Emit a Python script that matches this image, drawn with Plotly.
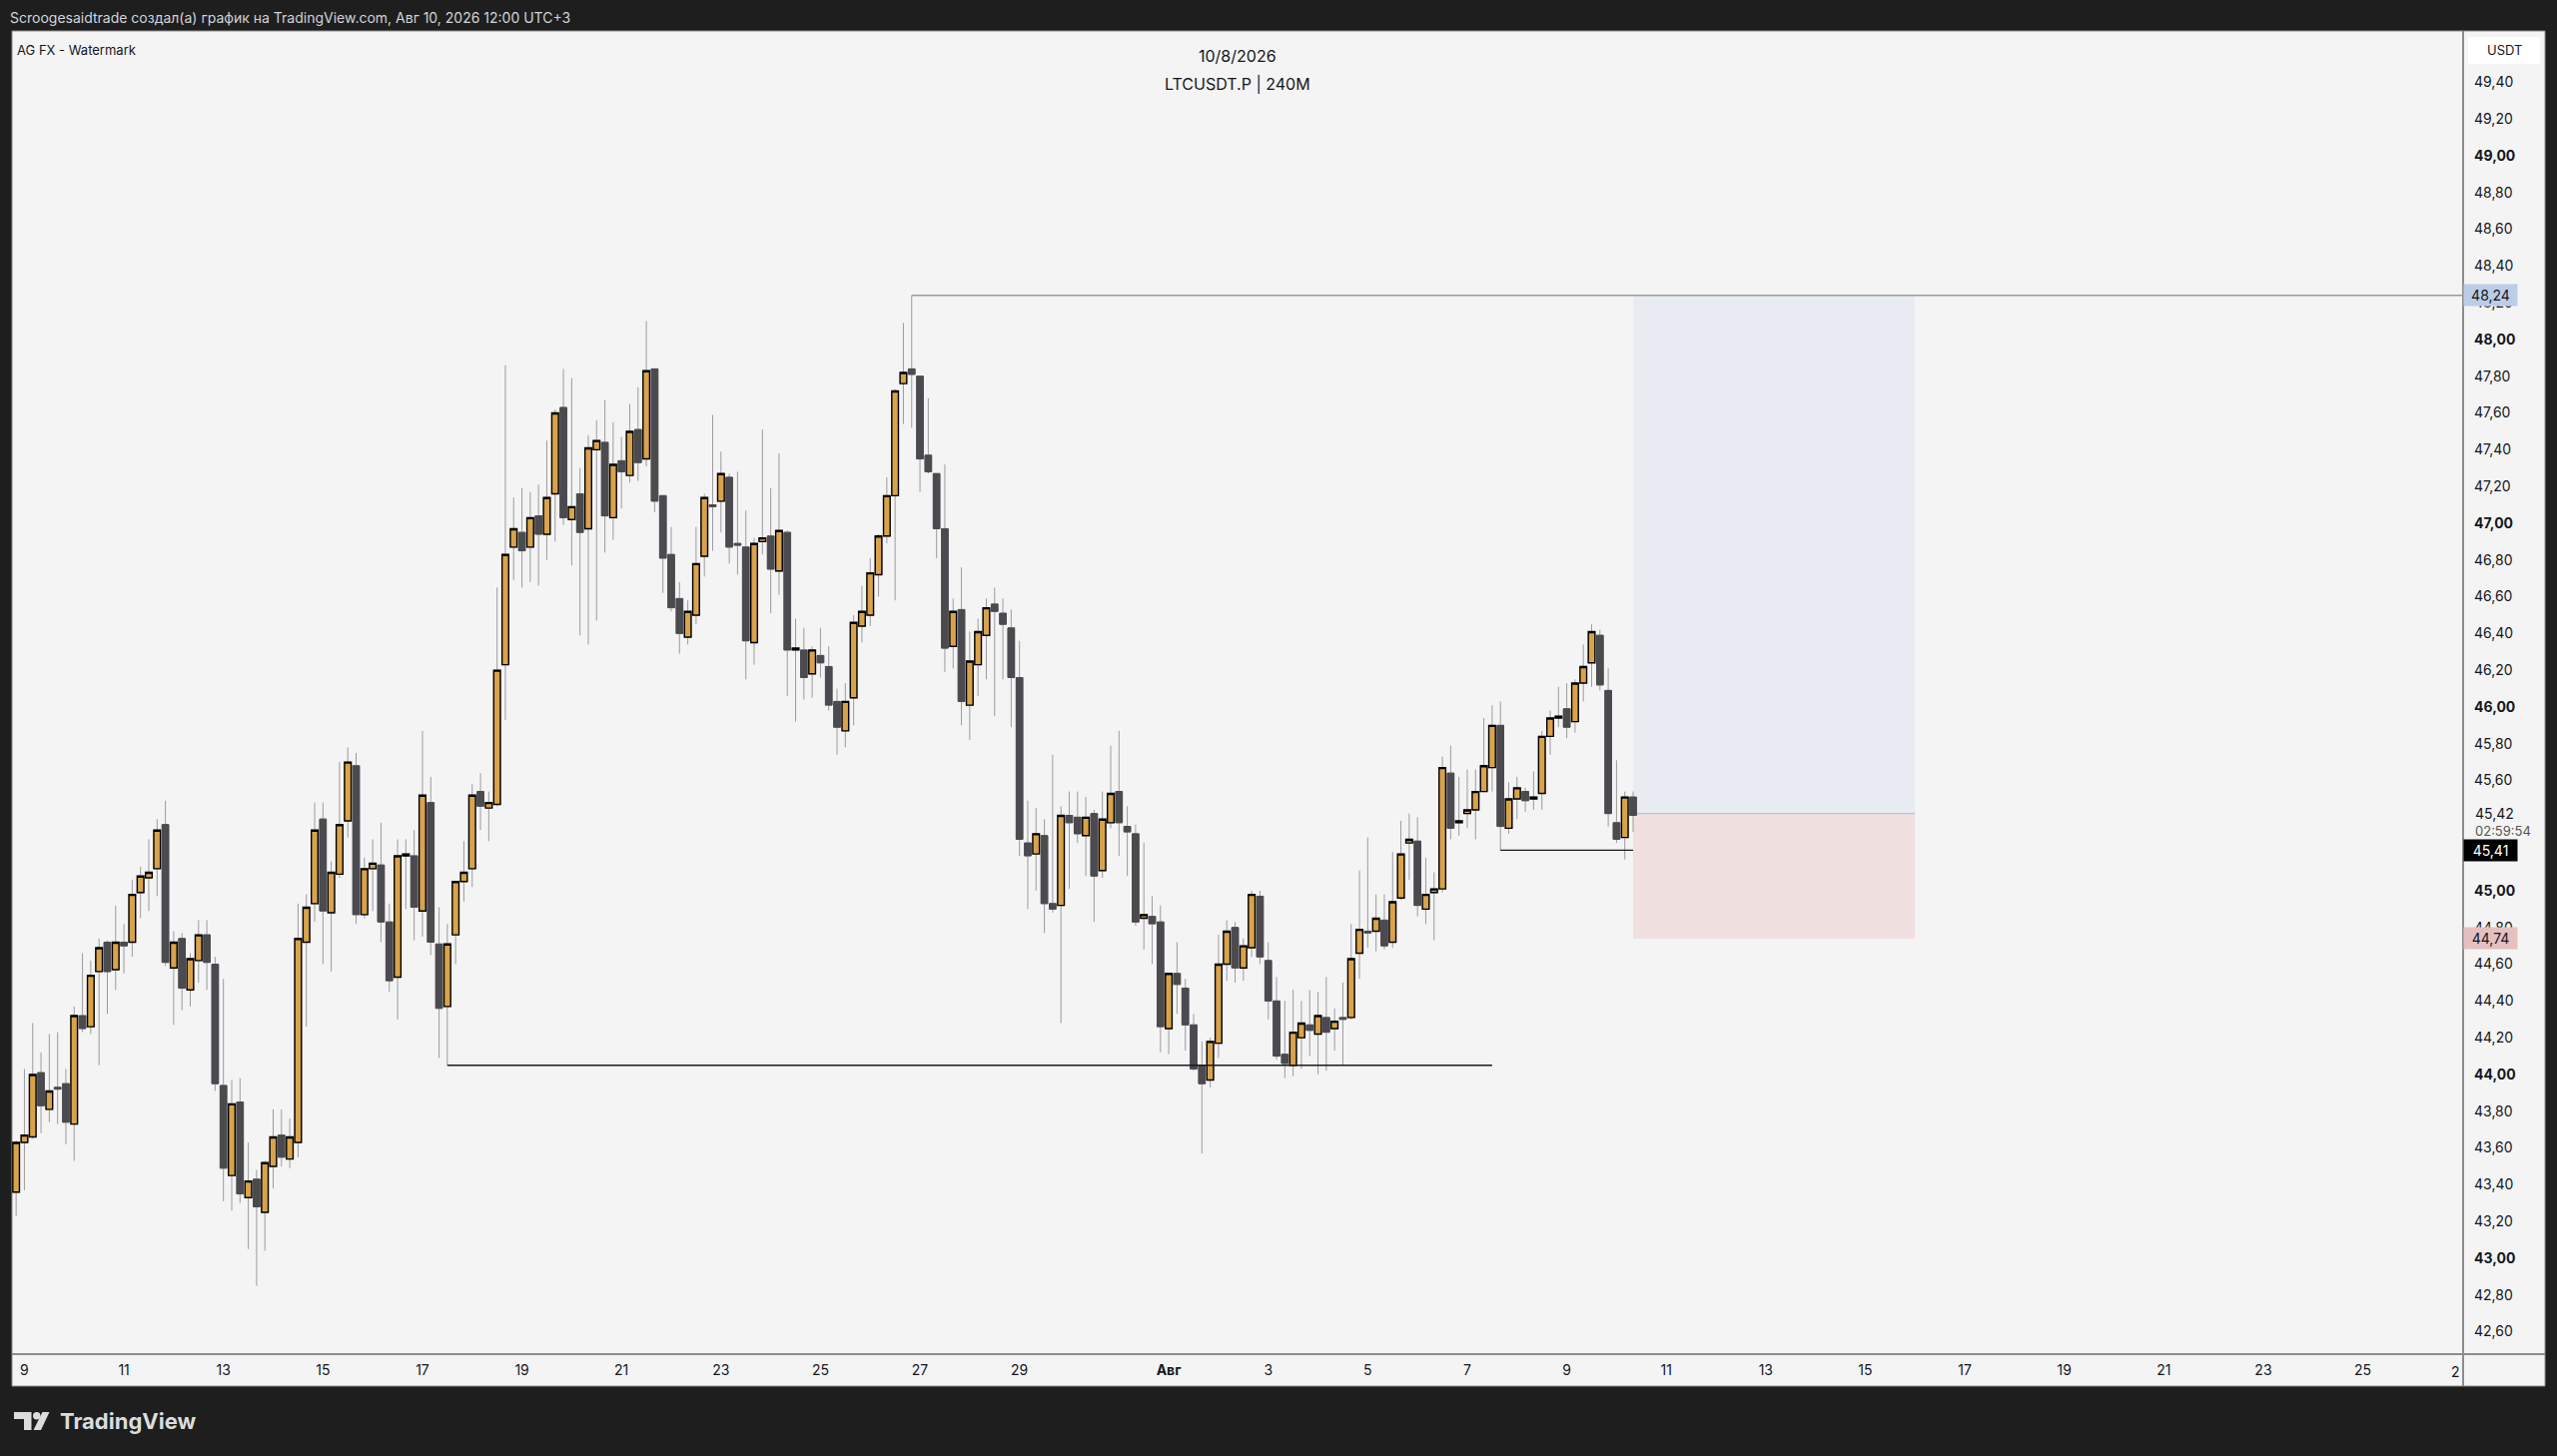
import pandas as pd
import plotly.graph_objects as go

# LTCUSDT.P, 4h-Kerzen, erste Kerze 08.07.2026 20:00
first_bar = "2026-07-08 20:00"

open_ = [
    43.36, 43.63, 43.66, 44.01, 43.81, 43.93,
    43.95, 43.73, 44.32, 44.26, 44.56, 44.72,
    44.57, 44.72, 44.72, 44.99, 45.07, 45.12,
    45.36, 44.58, 44.74, 44.46, 44.62, 44.76,
    44.60, 43.94, 43.45, 43.85, 43.33, 43.43,
    43.25, 43.50, 43.67, 43.54, 43.63, 44.72,
    44.93, 45.39, 44.88, 45.09, 45.38, 45.68,
    44.87, 45.12, 45.14, 44.83, 44.53, 45.19,
    45.19, 44.89, 45.48, 44.71, 44.37, 44.76,
    45.05, 45.12, 45.54, 45.45, 45.47, 46.23,
    46.87, 46.95, 46.87, 47.04, 46.94, 47.16,
    47.63, 47.02, 47.16, 46.97, 47.40, 47.44,
    47.03, 47.34, 47.26, 47.51, 47.35, 47.84,
    47.15, 46.83, 46.59, 46.38, 46.50, 46.82,
    47.10, 47.12, 47.25, 46.89, 46.87, 46.35,
    46.90, 46.93, 46.74, 46.95, 46.31, 46.31,
    46.18, 46.28, 46.22, 46.03, 45.87, 46.05,
    46.44, 46.50, 46.72, 46.93, 47.15, 47.76,
    47.84, 47.80, 47.37, 47.27, 46.97, 46.33,
    46.53, 46.01, 46.23, 46.39, 46.56, 46.51,
    46.43, 46.16, 45.26, 45.20, 45.30, 44.93,
    44.92, 45.41, 45.40, 45.30, 45.42, 45.11,
    45.37, 45.54, 45.35, 45.31, 44.85, 44.86,
    44.83, 44.25, 44.55, 44.47, 44.27, 44.05,
    43.97, 44.17, 44.60, 44.80, 44.58, 44.69,
    44.97, 44.62, 44.40, 44.11, 44.05, 44.20,
    44.27, 44.22, 44.31, 44.25, 44.31, 44.31,
    44.66, 44.78, 44.78, 44.84, 44.72, 44.96,
    45.26, 45.27, 44.90, 44.99, 45.01, 45.64,
    45.37, 45.42, 45.44, 45.54, 45.67, 45.90,
    45.34, 45.50, 45.54, 45.50, 45.53, 45.84,
    45.94, 45.99, 45.92, 46.13, 46.24, 46.39,
    46.09, 45.37, 45.29, 45.51,
]
high = [
    43.64, 44.03, 44.28, 44.12, 44.22, 44.23,
    44.03, 44.37, 44.66, 44.62, 44.74, 44.73,
    44.92, 44.82, 45.06, 45.13, 45.28, 45.39,
    45.49, 44.78, 44.77, 44.66, 44.84, 44.84,
    44.64, 44.52, 43.97, 43.98, 43.63, 43.48,
    43.53, 43.81, 43.81, 43.76, 44.93, 44.98,
    45.48, 45.48, 45.16, 45.70, 45.78, 45.75,
    45.18, 45.28, 45.37, 44.93, 45.28, 45.28,
    45.33, 45.87, 45.62, 44.91, 44.82, 45.05,
    45.27, 45.58, 45.64, 45.54, 46.65, 47.86,
    47.14, 47.19, 47.17, 47.21, 47.45, 47.62,
    47.84, 47.79, 47.30, 47.48, 47.56, 47.67,
    47.55, 47.47, 47.65, 47.74, 48.10, 47.84,
    47.15, 46.98, 46.68, 46.58, 46.98, 47.16,
    47.59, 47.39, 47.27, 47.28, 47.07, 46.92,
    47.51, 47.19, 47.38, 46.96, 46.48, 46.43,
    46.33, 46.43, 46.33, 46.10, 46.13, 46.50,
    46.66, 46.81, 46.94, 47.25, 47.73, 48.09,
    48.24, 47.80, 47.68, 47.27, 47.32, 46.59,
    46.76, 46.41, 46.48, 46.59, 46.65, 46.59,
    46.53, 46.36, 45.49, 45.45, 45.39, 45.74,
    45.46, 45.54, 45.54, 45.51, 45.44, 45.54,
    45.79, 45.87, 45.46, 45.36, 45.26, 44.97,
    44.92, 44.55, 44.72, 44.52, 44.33, 44.18,
    44.20, 44.76, 44.84, 44.83, 44.74, 45.00,
    45.00, 44.72, 44.53, 44.40, 44.46, 44.40,
    44.46, 44.45, 44.53, 44.36, 44.50, 44.82,
    45.11, 45.29, 44.98, 44.98, 45.21, 45.38,
    45.42, 45.40, 45.18, 45.10, 45.73, 45.79,
    45.62, 45.66, 45.66, 45.94, 46.01, 46.03,
    45.59, 45.62, 45.56, 45.65, 45.87, 45.98,
    46.11, 46.13, 46.15, 46.34, 46.45, 46.42,
    46.21, 45.71, 45.54, 45.54,
]
low = [
    43.23, 43.37, 43.65, 43.68, 43.74, 43.73,
    43.62, 43.53, 44.23, 44.22, 44.05, 44.33,
    44.46, 44.55, 44.64, 44.85, 44.89, 44.97,
    44.59, 44.27, 44.35, 44.37, 44.50, 44.46,
    43.91, 43.31, 43.26, 43.30, 43.05, 42.85,
    43.04, 43.38, 43.50, 43.49, 43.55, 44.26,
    44.83, 44.60, 44.56, 45.07, 45.29, 44.82,
    44.85, 44.89, 44.72, 44.45, 44.30, 44.90,
    44.73, 44.75, 44.65, 44.09, 44.05, 44.60,
    44.94, 45.02, 45.33, 45.27, 45.46, 45.93,
    46.69, 46.65, 46.68, 46.66, 46.80, 46.90,
    46.99, 46.77, 46.39, 46.34, 46.47, 46.84,
    46.91, 47.08, 47.22, 47.23, 47.31, 47.06,
    46.62, 46.52, 46.29, 46.34, 46.45, 46.71,
    46.85, 46.95, 46.78, 46.72, 46.15, 46.23,
    46.83, 46.51, 46.61, 46.06, 45.92, 46.04,
    46.05, 46.16, 45.98, 45.74, 45.78, 45.90,
    46.35, 46.44, 46.60, 46.89, 46.58, 47.54,
    47.52, 47.17, 47.27, 46.81, 46.19, 46.21,
    45.90, 45.82, 46.06, 46.15, 45.95, 46.15,
    45.89, 45.19, 44.90, 45.00, 44.77, 44.88,
    44.28, 45.01, 45.26, 45.08, 44.83, 45.07,
    45.34, 45.19, 45.08, 44.81, 44.68, 44.60,
    44.12, 44.11, 44.33, 44.13, 44.02, 43.57,
    43.93, 44.09, 44.51, 44.50, 44.51, 44.64,
    44.60, 44.30, 44.08, 43.98, 43.99, 44.03,
    44.10, 44.00, 44.02, 44.13, 44.05, 44.30,
    44.52, 44.69, 44.67, 44.68, 44.69, 44.95,
    45.06, 44.86, 44.82, 44.73, 44.99, 45.28,
    45.30, 45.34, 45.28, 45.54, 45.54, 45.22,
    45.31, 45.39, 45.43, 45.44, 45.44, 45.74,
    45.89, 45.83, 45.86, 46.03, 46.11, 46.09,
    45.35, 45.26, 45.17, 45.32,
]
close = [
    43.63, 43.67, 44.00, 43.83, 43.91, 43.92,
    43.74, 44.32, 44.25, 44.54, 44.69, 44.56,
    44.72, 44.70, 44.98, 45.08, 45.10, 45.33,
    44.61, 44.72, 44.47, 44.63, 44.76, 44.61,
    43.95, 43.49, 43.84, 43.35, 43.42, 43.28,
    43.52, 43.66, 43.55, 43.66, 44.74, 44.91,
    45.33, 44.89, 45.10, 45.36, 45.70, 44.87,
    45.12, 45.15, 44.83, 44.51, 45.19, 45.20,
    44.91, 45.52, 44.72, 44.36, 44.71, 45.05,
    45.10, 45.52, 45.46, 45.48, 46.20, 46.83,
    46.97, 46.85, 47.03, 46.94, 47.14, 47.60,
    47.03, 47.09, 46.95, 47.41, 47.45, 47.04,
    47.32, 47.28, 47.50, 47.33, 47.83, 47.12,
    46.81, 46.54, 46.40, 46.52, 46.78, 47.14,
    47.09, 47.27, 46.87, 46.88, 46.36, 46.89,
    46.92, 46.75, 46.96, 46.31, 46.32, 46.16,
    46.31, 46.24, 46.01, 45.89, 46.03, 46.46,
    46.52, 46.73, 46.93, 47.15, 47.72, 47.82,
    47.81, 47.35, 47.28, 46.97, 46.32, 46.52,
    46.03, 46.25, 46.41, 46.54, 46.52, 46.45,
    46.16, 45.28, 45.19, 45.31, 44.93, 44.90,
    45.41, 45.37, 45.31, 45.40, 45.08, 45.39,
    45.53, 45.37, 45.32, 44.83, 44.87, 44.82,
    44.26, 44.55, 44.49, 44.27, 44.03, 43.95,
    44.18, 44.60, 44.78, 44.58, 44.70, 44.98,
    44.64, 44.40, 44.10, 44.06, 44.23, 44.28,
    44.24, 44.32, 44.23, 44.29, 44.30, 44.63,
    44.79, 44.77, 44.85, 44.70, 44.94, 45.20,
    45.28, 44.92, 44.98, 45.01, 45.67, 45.34,
    45.38, 45.44, 45.54, 45.68, 45.90, 45.35,
    45.50, 45.56, 45.49, 45.51, 45.84, 45.94,
    45.95, 45.89, 46.13, 46.22, 46.41, 46.12,
    45.42, 45.28, 45.51, 45.41,
]

# Preisskala rechts
price_ticks = [42.6, 42.8, 43.0, 43.2, 43.4, 43.6, 43.8, 44.0, 44.2, 44.4, 44.6,
               44.8, 45.0, 45.6, 45.8, 46.0, 46.2, 46.4, 46.6, 46.8, 47.0,
               47.2, 47.4, 47.6, 47.8, 48.0, 48.2, 48.4, 48.6, 48.8, 49.0, 49.2, 49.4]

# Zeitachse
day_ticks = ["2026-07-09", "2026-07-11", "2026-07-13", "2026-07-15", "2026-07-17",
             "2026-07-19", "2026-07-21", "2026-07-23", "2026-07-25", "2026-07-27",
             "2026-07-29", "2026-08-01", "2026-08-03", "2026-08-05", "2026-08-07",
             "2026-08-09", "2026-08-11", "2026-08-13", "2026-08-15", "2026-08-17",
             "2026-08-19", "2026-08-21", "2026-08-23", "2026-08-25"]
day_labels = ["9", "11", "13", "15", "17", "19", "21", "23", "25", "27", "29",
              "<b>Авг</b>", "3", "5", "7", "9", "11", "13", "15", "17", "19", "21", "23", "25"]

# Zeichnungen
take_profit = 48.24
entry = 45.42
stop_loss = 44.74
low_level = 44.05
swing_level = 45.22
last_price = 45.41
low_line_end = "2026-08-07 12:00"
box_end = "2026-08-16 00:00"
x_range = ["2026-07-08 18:00", "2026-08-27 00:23"]
y_range = [42.478, 49.679]

times = pd.date_range(first_bar, periods=len(close), freq="4h")
body_top = [max(o, c) for o, c in zip(open_, close)]
body_bot = [min(o, c) for o, c in zip(open_, close)]

UP = "#d9a34c"
DOWN = "#4a4a4f"
WICK = "#9c9c9c"
BG = "#f4f4f4"
DARK = "#1e1e1e"
TXT = "#131722"
SEP = "#8c8c8c"
FONT = "Inter"

W, H = 2560, 1458
L, R, T, B = 12, 2466, 31, 1356  # Plotflaeche in Pixel


def px(x):
    return (x - L) / (R - L)


def py(y):
    return (B - y) / (B - T)


def path(points):
    s = "M " + " L ".join(f"{px(a):.5f},{py(b):.5f}" for a, b in points)
    return s + " Z"


fig = go.Figure()

# Dochte
fig.add_trace(go.Candlestick(
    x=times, open=open_, high=high, low=low, close=close,
    increasing=dict(line=dict(color=WICK, width=1), fillcolor=WICK),
    decreasing=dict(line=dict(color=WICK, width=1), fillcolor=WICK),
    hoverinfo="skip", showlegend=False,
))
# Koerper
fig.add_trace(go.Candlestick(
    x=times, open=open_, high=body_top, low=body_bot, close=close,
    increasing=dict(line=dict(color="#000000", width=1.4), fillcolor=UP),
    decreasing=dict(line=dict(color=DOWN, width=1), fillcolor=DOWN),
    hoverinfo="skip", showlegend=False,
))

shapes = []
# Rahmen / Hintergrund
shapes.append(dict(type="rect", xref="paper", yref="paper", layer="below",
                   x0=px(12), x1=px(2548), y0=py(31), y1=py(1388),
                   fillcolor=BG, line=dict(color=SEP, width=1)))
shapes.append(dict(type="line", xref="paper", yref="paper",
                   x0=px(2466), x1=px(2466), y0=py(31), y1=py(1388),
                   line=dict(color=SEP, width=2)))
shapes.append(dict(type="line", xref="paper", yref="paper",
                   x0=px(12), x1=px(2548), y0=py(1356), y1=py(1356),
                   line=dict(color=SEP, width=2)))
shapes.append(dict(type="rect", xref="paper", yref="paper",
                   x0=px(2471), x1=px(2543), y0=py(37), y1=py(64),
                   fillcolor="#ffffff", line=dict(width=0)))

# Long-Position Box
shapes.append(dict(type="rect", xref="x", yref="y", layer="below",
                   x0=times[-1], x1=box_end, y0=entry, y1=take_profit,
                   fillcolor="#e8ecf2", line=dict(width=0)))
shapes.append(dict(type="rect", xref="x", yref="y", layer="below",
                   x0=times[-1], x1=box_end, y0=stop_loss, y1=entry,
                   fillcolor="#f0e0e0", line=dict(width=0)))
shapes.append(dict(type="line", xref="x", yref="y", layer="below",
                   x0=times[-1], x1=box_end, y0=entry, y1=entry,
                   line=dict(color="#b4b8c4", width=1)))

# Linien
shapes.append(dict(type="line", xref="x", yref="y",
                   x0=times[108], x1=x_range[1], y0=take_profit, y1=take_profit,
                   line=dict(color="#999999", width=1.5)))
shapes.append(dict(type="line", xref="x", yref="y",
                   x0=times[52], x1=low_line_end, y0=low_level, y1=low_level,
                   line=dict(color="#1a1a1a", width=1.3)))
shapes.append(dict(type="line", xref="x", yref="y",
                   x0=times[179], x1=times[-1], y0=swing_level, y1=swing_level,
                   line=dict(color="#1a1a1a", width=1.3)))

# TradingView Logo
LOGO = "#dcdcdc"
shapes.append(dict(type="path", xref="paper", yref="paper", fillcolor=LOGO, line=dict(width=0),
                   path=path([(14, 1414), (31.5, 1414), (31.5, 1432), (24, 1432), (24, 1421), (14, 1421)])))
shapes.append(dict(type="circle", xref="paper", yref="paper", fillcolor=LOGO, line=dict(width=0),
                   x0=px(33), x1=px(40.5), y0=py(1414), y1=py(1421.5)))
shapes.append(dict(type="path", xref="paper", yref="paper", fillcolor=LOGO, line=dict(width=0),
                   path=path([(42.5, 1414), (49.5, 1414), (41, 1432), (33.5, 1432)])))

ann = []


def text(x, y, s, size, color=TXT, anchor="left", **kw):
    ann.append(dict(xref="paper", yref="paper", x=px(x), y=py(y), text=s, showarrow=False,
                    xanchor=anchor, yanchor="middle",
                    font=dict(family=FONT, size=size, color=color), **kw))


text(8, 17, "Scroogesaidtrade создал(а) график на TradingView.com, Авг 10, 2026 12:00 UTC+3",
     14, color="#d1d4dc")
text(15, 50, "AG FX - Watermark", 13)
text(1239, 56, "10/8/2026", 16, anchor="center")
text(1239, 84, "LTCUSDT.P | 240M", 16, anchor="center")
text(2507, 50.5, "USDT", 13, anchor="center")
text(2465, 1373, "2", 14, anchor="right")
text(58, 1423, "<b>TradingView</b>", 22, color=LOGO)


def price_label(y, s, bg, color, yshift=0):
    ann.append(dict(xref="paper", yref="y", x=1, y=y, text=s, showarrow=False,
                    xanchor="left", yanchor="middle", yshift=yshift,
                    width=49, align="center", borderpad=2, bgcolor=bg,
                    font=dict(family=FONT, size=14, color=color)))


price_label(take_profit, "48,24", "#bccde6", TXT)
price_label(stop_loss, "44,74", "#e6c0c0", TXT)
ann.append(dict(xref="paper", yref="y", x=1, y=entry, text="45,42", showarrow=False,
                xanchor="left", yanchor="middle", xshift=10,
                font=dict(family=FONT, size=14, color=TXT)))
ann.append(dict(xref="paper", yref="y", x=1, y=entry, text="02:59:54", showarrow=False,
                xanchor="left", yanchor="middle", xshift=10, yshift=-17,
                font=dict(family=FONT, size=13, color="#555555")))
price_label(last_price, "45,41", "#000000", "#ffffff", yshift=-35)


def fmt(v):
    s = f"{v:.2f}".replace(".", ",")
    return f"<b>{s}</b>" if abs(v - round(v)) < 1e-9 else s


fig.update_layout(
    width=W, height=H, autosize=False,
    margin=dict(l=L, r=W - R, t=T, b=H - B, pad=0),
    paper_bgcolor=DARK, plot_bgcolor=BG,
    boxgap=0.2, boxgroupgap=0,
    showlegend=False, hovermode=False,
    shapes=shapes, annotations=ann,
    font=dict(family=FONT, size=14, color=TXT),
    xaxis=dict(type="date", range=x_range, rangeslider=dict(visible=False),
               showgrid=False, zeroline=False, showline=False, ticks="",
               tickmode="array", tickvals=day_ticks, ticktext=day_labels,
               ticklabelstandoff=6, tickfont=dict(family=FONT, size=14, color=TXT)),
    yaxis=dict(side="right", range=y_range, showgrid=False, zeroline=False,
               showline=False, ticks="", tickmode="array", tickvals=price_ticks,
               ticktext=[fmt(v) for v in price_ticks], ticklabelstandoff=10,
               tickfont=dict(family=FONT, size=14, color=TXT)),
)

# Browser-Rand entfernen, damit die Grafik bei 0,0 beginnt; ohne Modebar
fig.write_html("out.html", config={"displayModeBar": False},
               post_script="document.body.style.margin='0';")
